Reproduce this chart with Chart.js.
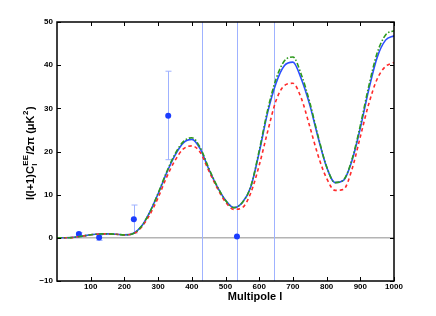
<!DOCTYPE html>
<html>
<head>
<meta charset="utf-8">
<script src="https://cdn.jsdelivr.net/npm/chart.js@4/dist/chart.umd.min.js"></script>
<style>
  body { margin: 0; background: #fff; }
  canvas { display: block; }
</style>
</head>
<body>
<canvas id="grafico" width="436" height="316"></canvas>
<script>
// multipoli campionati ogni 25
var multipoli = [0, 25, 50, 75, 100, 125, 150, 175, 200, 225, 250, 275, 300, 325, 350, 375, 400, 425, 450, 475, 500,
                 525, 550, 575, 600, 625, 650, 675, 700, 725, 750, 775, 800, 825, 850, 875, 900, 925, 950, 975, 1000];

var curvaBlu = [0, 0.02, 0.12, 0.4, 0.7, 0.88, 0.92, 0.82, 0.68, 0.95, 2.6, 5.9, 10.2, 15.0, 19.1, 22.0, 22.8, 20.6, 16.0, 11.9, 8.7,
                7.0, 8.2, 11.8, 19.8, 29.0, 35.8, 39.9, 40.7, 36.8, 30.8, 23.2, 16.4, 12.8, 13.3, 17.8, 25.4, 34.3, 41.8, 45.8, 46.8];

var curvaVerde = [0, 0.02, 0.12, 0.4, 0.7, 0.88, 0.92, 0.82, 0.68, 0.95, 2.6, 5.9, 10.3, 15.2, 19.4, 22.3, 23.2, 20.9, 16.2, 12.0, 8.7,
                  7.0, 8.2, 11.9, 20.2, 29.6, 36.8, 41.0, 41.9, 37.8, 31.4, 23.5, 16.5, 12.8, 13.4, 18.1, 26.0, 35.1, 42.8, 47.0, 48.0];

var curvaRossa = [0, 0.02, 0.12, 0.4, 0.7, 0.88, 0.92, 0.82, 0.68, 0.9, 2.4, 5.3, 9.3, 14.0, 17.9, 20.6, 21.3, 19.8, 15.6, 11.6, 8.3,
                  6.6, 7.0, 10.4, 16.8, 24.6, 31.8, 35.3, 35.8, 32.3, 25.8, 19.0, 13.8, 11.0, 11.2, 15.8, 23.4, 31.0, 36.8, 39.7, 40.6];

// punti misurati con barre d'errore
var puntiL = [65, 125, 228, 330, 431, 534, 645];
var puntiValore = [0.9, 0.07, 4.3, 28.3, 80, 0.3, -70];
var erroreSotto = [0.6, -0.6, 1.1, 18.1, -40, -80, -150];
var erroreSopra = [1.2, 0.6, 7.6, 38.6, 200, 80, 100];

var tickX = [100, 200, 300, 400, 500, 600, 700, 800, 900, 1000];
var tickY = [-10, 0, 10, 20, 30, 40, 50];

function coppie(xs, ys) {
    var out = [];
    for (var i = 0; i < xs.length; i++) {
        out.push({x: xs[i], y: ys[i]});
    }
    return out;
}

var fontTick = {family: 'Liberation Sans, Arial, sans-serif', size: 8, weight: 'bold'};

// zero, barre d'errore, cornice, tacche e titoli
var disegnoExtra = {
    id: 'disegnoExtra',
    beforeDatasetsDraw: function (chart) {
        var ctx = chart.ctx;
        var a = chart.chartArea;
        var sx = chart.scales.x, sy = chart.scales.y;
        ctx.save();
        ctx.beginPath();
        ctx.rect(a.left, a.top, a.right - a.left, a.bottom - a.top);
        ctx.clip();
        // linea dello zero
        ctx.strokeStyle = '#b4b4b4';
        ctx.lineWidth = 1.5;
        ctx.beginPath();
        ctx.moveTo(a.left, sy.getPixelForValue(0));
        ctx.lineTo(a.right, sy.getPixelForValue(0));
        ctx.stroke();
        // barre d'errore
        ctx.strokeStyle = '#9fb2ff';
        ctx.lineWidth = 1;
        for (var i = 0; i < puntiL.length; i++) {
            var px = Math.round(sx.getPixelForValue(puntiL[i])) + 0.5;
            var y1 = sy.getPixelForValue(erroreSotto[i]);
            var y2 = sy.getPixelForValue(erroreSopra[i]);
            ctx.beginPath();
            ctx.moveTo(px, y1);
            ctx.lineTo(px, y2);
            ctx.moveTo(px - 3, y1);
            ctx.lineTo(px + 3, y1);
            ctx.moveTo(px - 3, y2);
            ctx.lineTo(px + 3, y2);
            ctx.stroke();
        }
        ctx.restore();
    },
    afterDraw: function (chart) {
        var ctx = chart.ctx;
        var a = chart.chartArea;
        var sx = chart.scales.x, sy = chart.scales.y;
        ctx.save();
        ctx.strokeStyle = '#000';
        ctx.lineWidth = 1.5;
        ctx.strokeRect(a.left, a.top, a.right - a.left, a.bottom - a.top);
        ctx.lineWidth = 1;
        ctx.beginPath();
        for (var i = 0; i < tickX.length; i++) {
            var px = Math.round(sx.getPixelForValue(tickX[i])) + 0.5;
            ctx.moveTo(px, a.bottom);
            ctx.lineTo(px, a.bottom - 4);
            ctx.moveTo(px, a.top);
            ctx.lineTo(px, a.top + 4);
        }
        for (var j = 0; j < tickY.length; j++) {
            var py = Math.round(sy.getPixelForValue(tickY[j])) + 0.5;
            ctx.moveTo(a.left, py);
            ctx.lineTo(a.left + 4, py);
            ctx.moveTo(a.right, py);
            ctx.lineTo(a.right - 4, py);
        }
        ctx.stroke();

        // titolo asse x
        ctx.fillStyle = '#000';
        ctx.font = 'bold 11px Liberation Sans, Arial, sans-serif';
        ctx.textAlign = 'center';
        ctx.textBaseline = 'middle';
        ctx.fillText('Multipole l', 255, 297);

        // titolo asse y con pedici e apici
        var grande = 'bold 11px Liberation Sans, Arial, sans-serif';
        var piccolo = 'bold 8px Liberation Sans, Arial, sans-serif';
        var pezzi = [
            {t: 'l(l+1)C', f: grande, dy: 0},
            {t: 'l', f: piccolo, dy: 4, sopra: 'EE'},
            {t: '/2\u03c0 (\u03bcK', f: grande, dy: 0},
            {t: '2', f: piccolo, dy: -5},
            {t: ')', f: grande, dy: 0}
        ];
        var larghezze = [];
        var totale = 0;
        for (var k = 0; k < pezzi.length; k++) {
            ctx.font = pezzi[k].f;
            var w = ctx.measureText(pezzi[k].t).width;
            if (pezzi[k].sopra) {
                w = Math.max(w, ctx.measureText(pezzi[k].sopra).width);
            }
            larghezze.push(w + 0.5);
            totale += w + 0.5;
        }
        ctx.translate(31, 153);
        ctx.rotate(-Math.PI / 2);
        ctx.textAlign = 'left';
        ctx.textBaseline = 'middle';
        var xx = -totale / 2;
        for (var m = 0; m < pezzi.length; m++) {
            ctx.font = pezzi[m].f;
            ctx.fillText(pezzi[m].t, xx, pezzi[m].dy);
            if (pezzi[m].sopra) {
                ctx.fillText(pezzi[m].sopra, xx, -5);
            }
            xx += larghezze[m];
        }
        ctx.restore();
    }
};

var myChart = new Chart(document.getElementById('grafico'), {
    type: 'scatter',
    data: {
        datasets: [{
            label: 'verde',
            data: coppie(multipoli, curvaVerde),
            showLine: true,
            borderColor: '#2e9a1e',
            borderWidth: 1.6,
            borderDash: [5, 2, 1.5, 2],
            pointRadius: 0,
            cubicInterpolationMode: 'monotone'
        }, {
            label: 'rossa',
            data: coppie(multipoli, curvaRossa),
            showLine: true,
            borderColor: '#ff2a2a',
            borderWidth: 1.6,
            borderDash: [3.5, 3],
            pointRadius: 0,
            cubicInterpolationMode: 'monotone'
        }, {
            label: 'blu',
            data: coppie(multipoli, curvaBlu),
            showLine: true,
            borderColor: '#2b4dff',
            borderWidth: 1.6,
            pointRadius: 0,
            cubicInterpolationMode: 'monotone'
        }, {
            label: 'dati',
            data: coppie(puntiL, puntiValore),
            showLine: false,
            pointRadius: 3,
            pointBackgroundColor: '#1b3cff',
            pointBorderColor: '#1b3cff',
            pointBorderWidth: 0
        }]
    },
    options: {
        responsive: false,
        animation: false,
        events: [],
        layout: {padding: {top: 22, right: 42, left: 0, bottom: 0}},
        plugins: {legend: {display: false}, tooltip: {enabled: false}},
        scales: {
            x: {
                type: 'linear',
                min: 0,
                max: 1000,
                grid: {display: false, drawTicks: false, tickLength: 0},
                border: {display: false},
                afterFit: function (s) { s.height = 35; },
                ticks: {
                    stepSize: 100,
                    maxRotation: 0,
                    padding: 1,
                    color: '#000',
                    font: fontTick,
                    callback: function (v) { return v === 0 ? '' : v; }
                }
            },
            y: {
                min: -10,
                max: 50,
                grid: {display: false, drawTicks: false, tickLength: 0},
                border: {display: false},
                afterFit: function (s) { s.width = 57; },
                ticks: {
                    stepSize: 10,
                    padding: 4,
                    color: '#000',
                    font: fontTick,
                    callback: function (v) { return v < 0 ? '\u2212' + Math.abs(v) : v; }
                }
            }
        }
    },
    plugins: [disegnoExtra]
});
</script>
</body>
</html>
